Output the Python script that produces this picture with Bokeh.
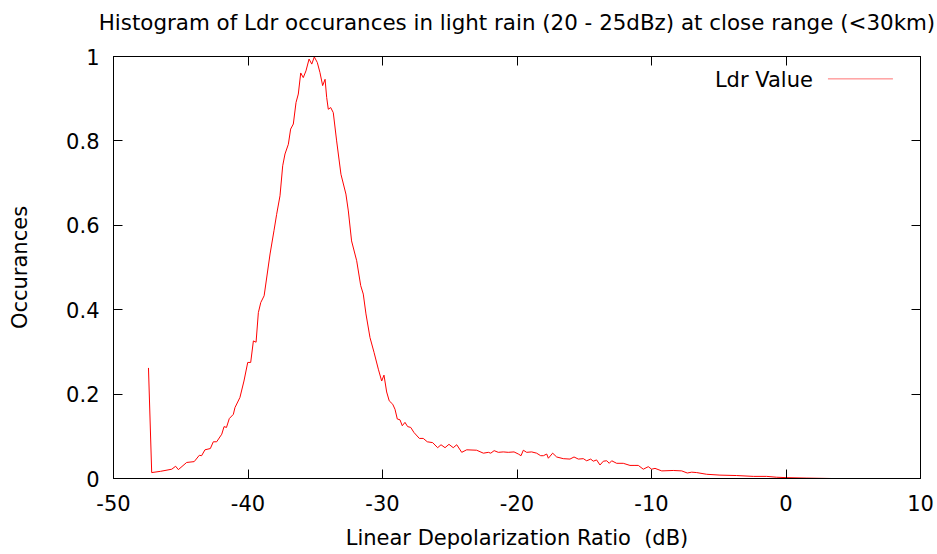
from bokeh.plotting import figure
from bokeh.models import (ColumnDataSource, LinearAxis, FixedTicker, Label,
                          BoxAnnotation, Title)
from bokeh.embed import file_html
from bokeh.resources import INLINE

# ---- data ----
ldr_db = [
    -47.4, -47.16, -46.5, -45.67, -45.38, -45.18, -44.56, -44.0, -43.62, -43.45,
    -43.2, -42.8, -42.58, -42.33, -41.95, -41.78, -41.6, -41.39, -41.09, -40.97,
    -40.6, -40.3, -40.02, -39.8, -39.6, -39.4, -39.23, -39.05, -38.8, -38.36,
    -38.07, -37.87, -37.62, -37.42, -37.25, -37.0, -36.83, -36.63, -36.43, -36.26,
    -36.08, -35.89, -35.69, -35.46, -35.26, -35.07, -34.85, -34.65, -34.45, -34.27,
    -34.15, -34.03, -33.85, -33.66, -33.41, -33.09, -32.72, -32.54, -32.3, -31.92,
    -31.62, -31.43, -31.23, -30.93, -30.63, -30.31, -30.06, -29.89, -29.69, -29.5,
    -29.24, -29.07, -28.9, -28.7, -28.53, -28.33, -28.13, -27.9, -27.66, -27.26,
    -26.97, -26.67, -26.27, -25.9, -25.65, -25.35, -25.06, -24.74, -24.48, -24.11,
    -23.74, -23.0, -22.5, -22.13, -21.95, -21.7, -21.39, -21.02, -20.65, -20.22,
    -19.9, -19.7, -19.53, -19.28, -18.91, -18.54, -18.24, -18.04, -17.79, -17.67,
    -17.35, -17.05, -16.56, -16.06, -15.76, -15.44, -15.07, -14.82, -14.52, -14.33,
    -14.08, -13.83, -13.58, -13.33, -13.14, -12.96, -12.59, -12.1, -11.6, -11.23,
    -10.98, -10.61, -10.24, -9.99, -9.74, -9.24, -8.38, -7.75, -7.34, -7.01,
    -6.64, -5.9, -4.91, -3.67, -2.43, -1.44, -0.7, 0.05, 1.5, 3.4,
]
occurances = [
    0.262, 0.014, 0.017, 0.022, 0.029, 0.021, 0.038, 0.040, 0.055, 0.054,
    0.068, 0.071, 0.087, 0.087, 0.105, 0.123, 0.121, 0.142, 0.152, 0.168,
    0.192, 0.231, 0.275, 0.275, 0.326, 0.323, 0.393, 0.417, 0.433, 0.532,
    0.587, 0.626, 0.670, 0.741, 0.769, 0.792, 0.828, 0.840, 0.891, 0.911,
    0.961, 0.950, 0.966, 0.994, 0.982, 0.999, 0.986, 0.962, 0.931, 0.946,
    0.903, 0.875, 0.879, 0.867, 0.800, 0.721, 0.674, 0.634, 0.563, 0.516,
    0.457, 0.437, 0.390, 0.334, 0.299, 0.259, 0.231, 0.245, 0.205, 0.184,
    0.176, 0.164, 0.141, 0.139, 0.125, 0.133, 0.123, 0.121, 0.109, 0.095,
    0.095, 0.087, 0.085, 0.073, 0.080, 0.073, 0.081, 0.073, 0.080, 0.062,
    0.068, 0.067, 0.060, 0.062, 0.060, 0.066, 0.062, 0.063, 0.062, 0.063,
    0.058, 0.054, 0.067, 0.062, 0.063, 0.060, 0.054, 0.054, 0.058, 0.048,
    0.060, 0.051, 0.047, 0.046, 0.051, 0.046, 0.047, 0.042, 0.046, 0.041,
    0.044, 0.032, 0.041, 0.042, 0.036, 0.042, 0.036, 0.036, 0.031, 0.031,
    0.031, 0.022, 0.028, 0.022, 0.024, 0.018, 0.019, 0.018, 0.013, 0.015,
    0.014, 0.010, 0.008, 0.007, 0.005, 0.005, 0.003, 0.002, 0.001, 0.0,
]
x_ticks = [-50, -40, -30, -20, -10, 0, 10]
x_tick_labels = {-50: "-50", -40: "-40", -30: "-30", -20: "-20", -10: "-10",
                 0: "0", 10: "10"}
y_ticks = [0, 0.2, 0.4, 0.6, 0.8, 1]
y_tick_labels = {0: "0", 0.2: "0.2", 0.4: "0.4", 0.6: "0.6", 0.8: "0.8", 1: "1"}
series_name = "Ldr Value"
title_text = "Histogram of Ldr occurances in light rain (20 - 25dBz) at close range (<30km)"
x_label = "Linear Depolarization Ratio\u00a0 (dB)"
y_label = "Occurances"

FONT = "DejaVu Sans"
FS = "21px"

p = figure(width=937, height=554, x_range=(-50, 10), y_range=(0, 1),
           output_backend="svg", toolbar_location=None,
           min_border_left=113, min_border_right=17,
           min_border_top=56, min_border_bottom=76,
           title=None)
p.background_fill_color = "white"
p.border_fill_color = "white"
p.outline_line_color = "black"
p.outline_line_width = 1
p.grid.visible = False

src = ColumnDataSource(dict(x=ldr_db, y=occurances))
p.line("x", "y", source=src, line_color="#ff0000", line_width=1)

def style_axis(ax, labels=True):
    ax.major_tick_in = 9
    ax.major_tick_out = 0
    ax.minor_tick_in = 0
    ax.minor_tick_out = 0
    ax.axis_line_color = "black"
    ax.major_tick_line_color = "black"
    ax.major_label_text_font = FONT
    ax.major_label_text_font_size = FS if labels else "0px"
    ax.major_label_text_color = "black"
    ax.axis_label_text_font = FONT
    ax.axis_label_text_font_size = FS
    ax.axis_label_text_font_style = "normal"
    ax.axis_label_text_color = "black"

xax = p.xaxis[0]
xax.ticker = FixedTicker(ticks=x_ticks)
xax.major_label_overrides = x_tick_labels
xax.axis_label = x_label
xax.major_label_standoff = 16
xax.axis_label_standoff = 12
style_axis(xax)

yax = p.yaxis[0]
yax.ticker = FixedTicker(ticks=y_ticks)
yax.major_label_overrides = y_tick_labels
yax.axis_label = y_label
yax.major_label_standoff = 14
yax.axis_label_standoff = 31
style_axis(yax)

# mirrored inward ticks on the top and right borders (no labels)
top_ax = LinearAxis(ticker=FixedTicker(ticks=x_ticks))
style_axis(top_ax, labels=False)
top_ax.major_label_text_color = None
top_ax.major_label_standoff = 0
p.add_layout(top_ax, "above")

right_ax = LinearAxis(ticker=FixedTicker(ticks=y_ticks))
style_axis(right_ax, labels=False)
right_ax.major_label_text_color = None
right_ax.major_label_standoff = 0
p.add_layout(right_ax, "right")

# blank spacer between the top border and the title
p.add_layout(Title(text=".", text_font=FONT, text_font_size="10px",
                   standoff=6, text_color="white"), "above")

# title, centred over the plotting frame
p.add_layout(Title(text=title_text, align="center", vertical_align="middle",
                   standoff=10, text_font=FONT, text_font_size="21.4px",
                   text_font_style="normal", text_color="black"), "above")

# key: text followed by line sample, as in the reference
p.add_layout(Label(x=2.0, y=0.945, text=series_name, text_align="right",
                   text_baseline="middle", text_font=FONT, text_font_size=FS,
                   text_color="black"))
p.add_layout(BoxAnnotation(left=3.12, right=7.95, bottom=0.947, top=0.947,
                           fill_color=None, fill_alpha=0, line_color="#ff0000",
                           line_width=1))

open("out.html", "w").write(file_html(p, INLINE))
